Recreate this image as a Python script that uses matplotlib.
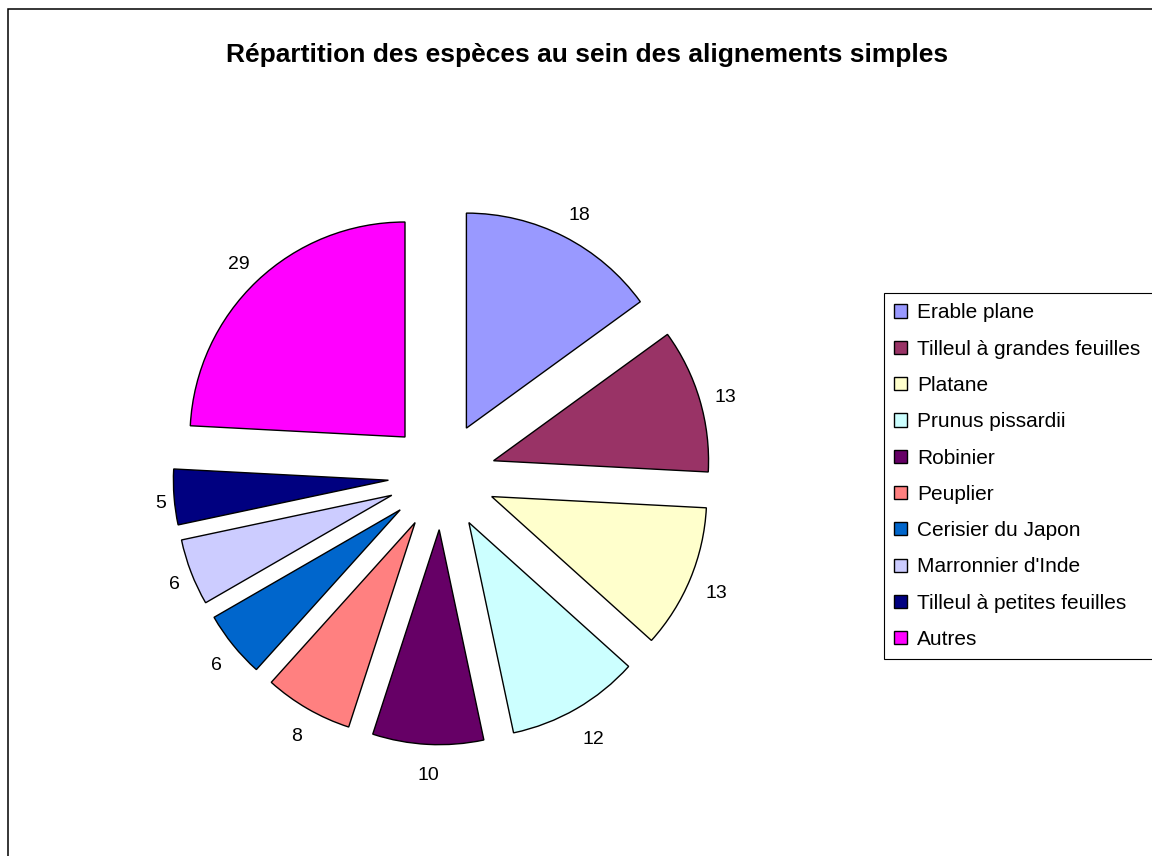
import numpy as np
import matplotlib
matplotlib.use("Agg")
import matplotlib.pyplot as plt
from matplotlib.patches import Rectangle

# Data
species = ["Erable plane", "Tilleul à grandes feuilles", "Platane", "Prunus pissardii",
           "Robinier", "Peuplier", "Cerisier du Japon", "Marronnier d'Inde",
           "Tilleul à petites feuilles", "Autres"]
counts = [18, 13, 13, 12, 10, 8, 6, 6, 5, 29]
colors = ["#9999FF", "#993366", "#FFFFCC", "#CCFFFF", "#660066",
          "#FF8080", "#0066CC", "#CCCCFF", "#000080", "#FF00FF"]
title = "Répartition des espèces au sein des alignements simples"

plt.rcParams['font.family'] = ['Liberation Sans', 'DejaVu Sans']

W, H = 1152, 856
fig = plt.figure(figsize=(W / 100, H / 100), dpi=100)
ax = fig.add_axes([0, 0, 1, 1])

radius = 215
wedges, _ = ax.pie(counts, colors=colors, startangle=90, counterclock=False,
                   center=(442, H - 476), radius=radius,
                   explode=[0.25 * radius] * len(counts),
                   wedgeprops=dict(edgecolor='black', linewidth=1.0), frame=True)
ax.set_xlim(0, W)
ax.set_ylim(0, H)
ax.axis('off')

# value labels just outside each exploded slice
for w, v in zip(wedges, counts):
    mid = np.deg2rad((w.theta1 + w.theta2) / 2)
    dx, dy = np.cos(mid), np.sin(mid)
    d = radius * 1.037 + 6.2 * len(str(v)) * abs(dx) + 18 * abs(dy)
    cx, cy = w.center
    ax.text(cx + d * dx + 2, cy + d * dy - 5, str(v), ha='center', va='center', fontsize=14)

fig.text(587 / W, 1 - 55 / H, title, ha='center', va='center',
         fontsize=19, fontweight='bold')

leg = ax.legend(wedges, species, loc='upper left',
                bbox_to_anchor=(884 / W, 0, 0.3, 1 - 293 / H), bbox_transform=fig.transFigure,
                mode='expand', borderaxespad=0, fontsize=15, frameon=True, fancybox=False,
                handlelength=0.6, handleheight=0.6, handletextpad=0.5, borderpad=0.5,
                labelspacing=0.83)
leg.get_frame().set_edgecolor('black')
leg.get_frame().set_linewidth(0.8)
leg.get_frame().set_alpha(1)

# outer chart frame (runs off the right and bottom edge)
frame = Rectangle((7.5 / W, -1), 2, 2 - 8.5 / H, transform=fig.transFigure,
                  fill=False, edgecolor='black', linewidth=1.1)
fig.add_artist(frame)

fig.savefig("out.png", dpi=100)
